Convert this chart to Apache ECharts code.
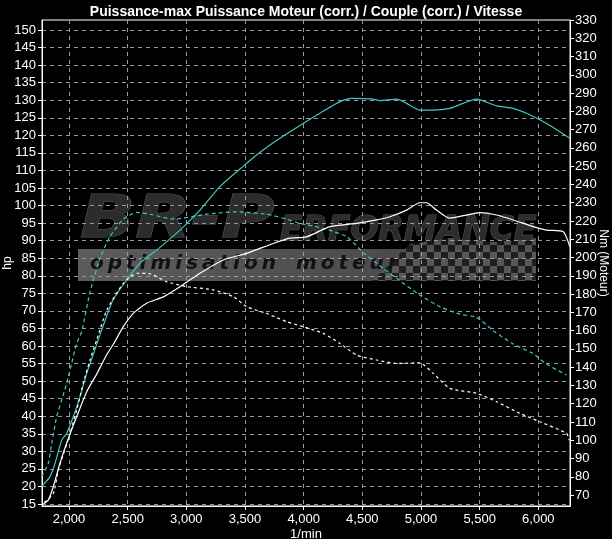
<!DOCTYPE html>
<html>
<head>
<meta charset="utf-8">
<script src="https://cdn.jsdelivr.net/npm/echarts@6/dist/echarts.min.js"></script>
<style>
html,body{margin:0;padding:0;background:#000;}
#c{width:612px;height:539px;}
</style>
</head>
<body>
<div id="c"></div>
<script>
// ---- data ----
const titleText = 'Puissance-max Puissance Moteur (corr.) / Couple (corr.) / Vitesse';
const xTicks = [2000, 2500, 3000, 3500, 4000, 4500, 5000, 5500, 6000];
const hpTicks = [15,20,25,30,35,40,45,50,55,60,65,70,75,80,85,90,95,100,105,110,115,120,125,130,135,140,145,150];
const nmTicks = [70,80,90,100,110,120,130,140,150,160,170,180,190,200,210,220,230,240,250,260,270,280,290,300,310,320,330];

// cyan solid: power (hp)
const cyanPowerRpm = [1767,1838,1881,1938,1980,2037,2094,2151,2220,2279,2375,2492,2605,2747,2946,3116,3287,3482,3653,3798,3996,4139,4309,4409,4593,4650,4792,4877,4990,5101,5246,5359,5474,5644,5786,5900,6070,6268];
const cyanPowerHp  = [20.0,22.8,26.6,33.2,35.1,39.9,45.6,52.2,58.9,64.6,73.1,78.8,83.6,87.3,93.0,98.7,105.4,111.1,115.8,119.2,123.4,126.3,129.6,130.5,130.3,129.9,130.3,129.1,127.2,127.2,127.7,129.1,130.3,128.4,127.7,126.3,123.4,119.2];

// cyan dashed: torque (Nm)
const cyanTorqueRpm = [1767,1824,1853,1895,1938,1980,2023,2066,2108,2179,2264,2349,2463,2577,2690,2889,3173,3429,3684,3855,3968,4167,4366,4520,4735,4792,4990,5161,5331,5474,5615,5786,5956,6070,6240];
const cyanTorqueNm  = [80.0,87.4,98.3,112.9,122.0,131.2,142.1,153.0,159.4,181.1,199.4,211.4,221.0,224.7,223.7,221.0,223.7,225.0,223.7,221.0,218.7,216.0,211.4,202.0,191.3,188.6,179.5,173.1,169.0,167.3,160.0,152.7,147.4,141.7,135.7];

// white solid: power (hp)
const whitePowerRpm = [1780,1824,1866,1923,1980,2066,2151,2236,2321,2378,2463,2548,2662,2804,2946,3116,3315,3514,3741,3883,4025,4224,4451,4622,4735,4877,4990,5047,5133,5246,5388,5502,5644,5786,5956,6070,6211,6268];
const whitePowerHp  = [15.0,16.1,19.9,26.6,32.3,39.9,47.0,52.0,57.5,60.5,65.5,69.3,72.2,74.0,76.9,80.7,84.5,86.4,89.2,90.7,91.1,94.0,94.9,95.9,96.8,98.7,100.8,100.8,98.7,96.4,97.3,98.0,97.3,95.9,94.0,93.0,92.6,88.3];

// white dashed: torque (Nm)
const whiteTorqueRpm = [1790,1866,1909,1952,2009,2066,2122,2179,2236,2321,2463,2577,2690,2832,3003,3229,3400,3514,3684,3855,3996,4167,4309,4451,4622,4792,4990,5104,5246,5474,5644,5843,6013,6240,6263];
const whiteTorqueNm  = [66.0,70.7,83.7,92.3,103.8,116.6,131.2,143.9,154.8,171.0,185.9,191.4,191.1,186.8,184.1,182.3,178.6,173.1,169.4,164.9,162.1,158.5,153.0,146.6,143.9,142.0,142.4,136.6,128.4,125.7,121.1,114.7,110.1,103.8,100.1];

const zip = (a, b) => a.map((v, i) => [v, b[i]]);
const fmtThousands = v => String(v).replace(/\B(?=(\d{3})+(?!\d))/g, ',');

// checker pattern for the watermark flag
const pat = document.createElement('canvas');
pat.width = 14; pat.height = 14;
const pc = pat.getContext('2d');
pc.fillStyle = '#1a1a1a'; pc.fillRect(0,0,14,14);
pc.fillStyle = '#5a5a5a'; pc.fillRect(0,0,7,7); pc.fillRect(7,7,7,7);

const FONT = "'Liberation Sans Narrow', 'Liberation Sans', Arial, sans-serif";
const chart = echarts.init(document.getElementById('c'), null, {renderer: 'canvas'});

const option = {
  backgroundColor: '#000',
  animation: false,
  title: {
    text: titleText, left: 'center', top: 0,
    textStyle: {color: '#fff', fontSize: 14, fontWeight: 'bold', fontFamily: "'Liberation Sans', Arial, sans-serif"}
  },
  grid: {left: 42, right: 42, top: 20, bottom: 33, show: true, borderColor: '#fff', borderWidth: 1,
    backgroundColor: '#000', containLabel: false, outerBoundsMode: 'none'},
  graphic: [
    {type: 'group', z: 1, silent: true, children: [
      {type: 'rect', shape: {x: 78, y: 249, width: 458, height: 32},
        style: {fill: new echarts.graphic.LinearGradient(0,0,1,0,[{offset:0,color:'#5c5c5c'},{offset:1,color:'#444'}])}},
      {type: 'polygon', shape: {points: [[372,281],[410,244],[450,238],[495,242],[536,238],[536,281]]},
        style: {fill: {image: pat, repeat: 'repeat'}, opacity: 0.9}},
      {type: 'text', x: 90, y: 254,
        style: {text: 'o\u2009p\u2009t\u2009i\u2009m\u2009i\u2009s\u2009a\u2009t\u2009i\u2009o\u2009n\u2003m\u2009o\u2009t\u2009e\u2009u\u2009r', fill: '#111', font: "italic bold 20px 'DejaVu Sans', sans-serif"}},
      {type: 'text', x: 80, y: 193, scaleX: 1.25,
        style: {text: 'BR-P', fill: '#2c2c2c', stroke: '#5a5a5a', lineWidth: 1, font: "italic bold 58px 'DejaVu Sans', sans-serif"}},
      {type: 'text', x: 280, y: 214, scaleX: 0.97,
        style: {text: 'ERFORMANCE', fill: '#2c2c2c', stroke: '#5a5a5a', lineWidth: 1, font: "italic bold 34px 'DejaVu Sans', sans-serif"}}
    ]}
  ],
  xAxis: {
    type: 'value', min: 1770, max: 6270,
    name: '1/min', nameLocation: 'middle', nameGap: 22, nameMoveOverlap: false,
    nameTextStyle: {color: '#fff', fontSize: 13, fontFamily: FONT},
    axisLine: {show: true, lineStyle: {color: '#fff', width: 1}},
    axisTick: {show: true, length: 4, customValues: xTicks, lineStyle: {color: '#fff'}},
    axisLabel: {customValues: xTicks, color: '#fff', fontSize: 13, fontFamily: FONT, margin: 7, formatter: fmtThousands},
    splitLine: {show: true, lineStyle: {color: '#9a9a9a', type: [4, 4], width: 1}}
  },
  yAxis: [
    {
      type: 'value', min: 14.43, max: 152.85, position: 'left',
      name: 'hp', nameLocation: 'middle', nameGap: 28, nameRotate: 90, nameMoveOverlap: false,
      nameTextStyle: {color: '#fff', fontSize: 12, fontFamily: FONT},
      axisLine: {show: true, lineStyle: {color: '#fff', width: 1}},
      axisTick: {show: true, length: 4, customValues: hpTicks, lineStyle: {color: '#fff'}},
      axisLabel: {customValues: hpTicks, color: '#fff', fontSize: 13, fontFamily: FONT, margin: 6},
      splitLine: {show: true, lineStyle: {color: '#9a9a9a', type: [4, 4], width: 1}}
    },
    {
      type: 'value', min: 64, max: 330, position: 'right',
      name: 'Nm (Moteur)', nameLocation: 'middle', nameGap: 27, nameRotate: -90, nameMoveOverlap: false,
      nameTextStyle: {color: '#fff', fontSize: 12, fontFamily: FONT},
      axisLine: {show: true, lineStyle: {color: '#fff', width: 1}},
      axisTick: {show: true, length: 4, customValues: nmTicks, lineStyle: {color: '#fff'}},
      axisLabel: {customValues: nmTicks, color: '#fff', fontSize: 13, fontFamily: FONT, margin: 5},
      splitLine: {show: false}
    }
  ],
  series: [
    {type: 'line', yAxisIndex: 0, data: zip(cyanPowerRpm, cyanPowerHp), showSymbol: false, smooth: 0.2,
      lineStyle: {color: '#3fc8c8', width: 1.2}, z: 5},
    {type: 'line', yAxisIndex: 1, data: zip(cyanTorqueRpm, cyanTorqueNm), showSymbol: false, smooth: 0.2,
      lineStyle: {color: '#3fc8c8', width: 1.2, type: [4, 3]}, z: 5},
    {type: 'line', yAxisIndex: 0, data: zip(whitePowerRpm, whitePowerHp), showSymbol: false, smooth: 0.2,
      lineStyle: {color: '#fff', width: 1.2}, z: 5},
    {type: 'line', yAxisIndex: 1, data: zip(whiteTorqueRpm, whiteTorqueNm), showSymbol: false, smooth: 0.2,
      lineStyle: {color: '#fff', width: 1.2, type: [3, 3]}, z: 5}
  ]
};
chart.setOption(option);
</script>
</body>
</html>
